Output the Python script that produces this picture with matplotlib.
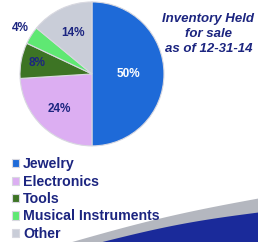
import matplotlib.pyplot as plt
import numpy as np

categories = ["Jewelry", "Electronics", "Tools", "Musical Instruments", "Other"]
shares = [50, 24, 8, 4, 14]
colors = ["#1e6ad8", "#dcaef2", "#3d7424", "#5fe873", "#c9cdd8"]
label_colors = ["white", "#1c2580", "#1c2580", "#1c2580", "#1c2580"]
label_radius = [0.5, 0.67, 0.78, 1.18, 0.63]
title = "Inventory Held\nfor sale\nas of 12-31-14"
navy = "#1c2580"

plt.rcParams["font.family"] = ["Liberation Sans", "DejaVu Sans"]

fig = plt.figure(figsize=(2.58, 2.42), dpi=100)

# background swoosh
bg = fig.add_axes([0, 0, 1, 1])
bg.set_xlim(0, 258)
bg.set_ylim(242, 0)
bg.axis("off")
xs = np.linspace(60, 258, 200)
gray_top = 242 - (xs - 70) * 44 / 188 - 3 * np.sin((xs - 70) / 188 * np.pi)
blue_top = 242 - (xs - 100) * 30 / 158 - 3 * np.sin((xs - 100) / 158 * np.pi)
bg.fill_between(xs, gray_top, 242, color="#b4b7bf", lw=0)
bg.fill_between(xs, np.minimum(blue_top, 242), 242, color="#1a2a9a", lw=0)

ax = fig.add_axes([0.0775, 0.397, 0.558, 0.595])
wedges, _ = ax.pie(shares, colors=colors, startangle=90, counterclock=False,
                   radius=1, wedgeprops=dict(edgecolor="#d8d8e0", linewidth=0.8))
ax.set_xlim(-1, 1)
ax.set_ylim(-1, 1)
ax.set_aspect("equal")
ax.axis("off")

for w, s, c, r in zip(wedges, shares, label_colors, label_radius):
    ang = np.deg2rad((w.theta1 + w.theta2) / 2)
    ax.text(r * np.cos(ang), r * np.sin(ang), f"{s}%", color=c,
            ha="center", va="center", fontsize=8.5, fontweight="bold")

fig.text(0.808, 0.86, title, ha="center", va="center", color=navy,
         fontsize=9.5, fontweight="bold", fontstyle="italic", linespacing=1.3)

fig.legend(wedges, categories, loc="upper left", bbox_to_anchor=(0.045, 0.35),
           frameon=False, handlelength=0.5, handleheight=0.5, handletextpad=0.3,
           labelspacing=0.24, borderpad=0, borderaxespad=0,
           prop=dict(size=10.2, weight="bold"), labelcolor=navy)

fig.savefig("out.png", dpi=100)
